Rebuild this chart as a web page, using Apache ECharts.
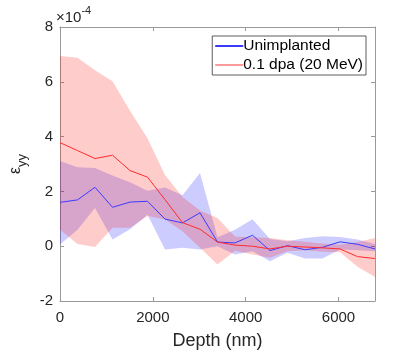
<!DOCTYPE html>
<html>
<head>
<meta charset="utf-8">
<script src="https://cdn.jsdelivr.net/npm/echarts@6/dist/echarts.min.js"></script>
<style>
  html, body { margin: 0; padding: 0; background: #fff; }
  #chart { width: 415px; height: 355px; }
</style>
</head>
<body>
<div id="chart"></div>
<script>
// depth in nm, strain in units of 1e-4
var depth = [0, 377, 754, 1131, 1508, 1885, 2262, 2639, 3016, 3393, 3770, 4147, 4524, 4901, 5278, 5655, 6032, 6409, 6786];

var blueMean  = [1.60, 1.69, 2.15, 1.42, 1.61, 1.64, 0.99, 0.85, 1.22, 0.15, 0.12, 0.40, -0.16, 0.02, -0.13, -0.04, 0.16, 0.07, -0.10];
var blueUpper = [3.11, 2.88, 2.85, 2.58, 2.33, 2.02, 2.14, 1.86, 2.67, 0.33, 0.60, 0.98, 0.26, 0.18, 0.30, 0.36, 0.34, 0.24, 0.08];
var blueLower = [0.06, 0.60, 1.39, 0.24, 0.62, 1.15, -0.12, -0.06, -0.12, 0.00, -0.30, -0.18, -0.55, -0.24, -0.45, -0.45, -0.12, -0.15, -0.18];

var redMean  = [3.78, 3.49, 3.20, 3.32, 2.76, 2.52, 1.70, 0.86, 0.62, 0.15, 0.04, 0.00, -0.10, 0.00, -0.03, -0.06, -0.10, -0.38, -0.45];
var redUpper = [6.94, 6.88, 6.42, 6.02, 4.94, 3.94, 2.60, 1.80, 1.30, 1.03, 0.35, 0.33, 0.30, 0.22, 0.16, 0.10, 0.05, 0.15, 0.30];
var redLower = [0.60, 0.08, -0.03, 0.67, 0.67, 1.10, 0.97, 0.55, -0.06, -0.67, -0.17, -0.30, -0.42, -0.18, -0.15, -0.20, -0.22, -0.75, -1.12];

var names = ['Unimplanted', '0.1 dpa (20 MeV)'];
var xTicks = [0, 2000, 4000, 6000];

var FONT = 'Liberation Sans';
var AX = '#999';
var TXT = '#262626';

function pairs(ys) {
  return depth.map(function (d, i) { return [d, ys[i]]; });
}

// shaded band between lower and upper, drawn as one polygon through the axes
function band(lower, upper, fill) {
  return {
    type: 'custom',
    silent: true,
    clip: true,
    data: depth.map(function (d, i) { return [d, lower[i], upper[i]]; }),
    encode: { x: 0, y: [1, 2] },
    renderItem: function (params, api) {
      if (params.dataIndex !== 0) return null;
      var pts = [];
      for (var i = 0; i < depth.length; i++) pts.push(api.coord([depth[i], upper[i]]));
      for (var j = depth.length - 1; j >= 0; j--) pts.push(api.coord([depth[j], lower[j]]));
      return { type: 'polygon', shape: { points: pts }, style: { fill: fill } };
    }
  };
}

function line(name, ys, color) {
  return {
    type: 'line',
    name: name,
    data: pairs(ys),
    symbol: 'none',
    lineStyle: { color: color, width: 1 },
    itemStyle: { color: color },
    animation: false
  };
}

function boxAxis(extra) {
  var a = {
    type: 'value',
    axisLine: { show: true, onZero: false, lineStyle: { color: AX } },
    axisTick: { show: true, inside: true, length: 4, lineStyle: { color: AX } },
    splitLine: { show: false },
    axisLabel: { show: false }
  };
  for (var k in extra) a[k] = extra[k];
  return a;
}

var xMax = depth[depth.length - 1];

var chart = echarts.init(document.getElementById('chart'));
chart.setOption({
  animation: false,
  textStyle: { fontFamily: FONT },
  grid: { left: 55, right: 40, top: 27, bottom: 52 },
  legend: {
    orient: 'vertical',
    right: 49,
    top: 36,
    padding: [2, 3, 2, 2],
    itemGap: 3,
    itemWidth: 28,
    itemHeight: 12,
    borderColor: '#333',
    borderWidth: 0.8,
    backgroundColor: '#fff',
    textStyle: { fontFamily: FONT, fontSize: 15.5, color: '#000', padding: [0, 0, 0, -5] },
    data: [
      { name: names[0], lineStyle: { color: '#3b3bff' }, itemStyle: { opacity: 0 } },
      { name: names[1], lineStyle: { color: '#ff9a9a' }, itemStyle: { opacity: 0 } }
    ]
  },
  graphic: [{
    type: 'text',
    left: 56,
    top: 5,
    style: {
      text: '{a|×10}{b|-4}',
      rich: {
        a: { fontFamily: FONT, fontSize: 15, fill: TXT, padding: [6, 0, 0, 0] },
        b: { fontFamily: FONT, fontSize: 11, fill: TXT, padding: [0, 0, 8, 0] }
      }
    }
  }],
  xAxis: [
    boxAxis({
      position: 'bottom', min: 0, max: xMax, interval: 2000,
      axisLabel: {
        color: TXT, fontSize: 15, margin: 9,
        formatter: function (v) { return xTicks.indexOf(v) >= 0 ? String(v) : ''; }
      },
      name: 'Depth (nm)',
      nameLocation: 'middle',
      nameGap: 31,
      nameTextStyle: { color: TXT, fontSize: 18 }
    }),
    boxAxis({ position: 'top', min: 0, max: xMax, interval: 2000 })
  ],
  yAxis: [
    boxAxis({
      position: 'left', min: -2, max: 8, interval: 2,
      axisLabel: { color: TXT, fontSize: 15, margin: 7 },
      name: '{e|ε}{s|yy}',
      nameLocation: 'middle',
      nameGap: 30,
      nameTextStyle: {
        rich: {
          e: { fontFamily: FONT, fontSize: 16, color: TXT, padding: [0, 0, 6, 0] },
          s: { fontFamily: FONT, fontSize: 13, color: TXT, padding: [6, 0, 0, 0] }
        }
      }
    }),
    boxAxis({ position: 'right', min: -2, max: 8, interval: 2 })
  ],
  series: [
    band(blueLower, blueUpper, 'rgba(0,0,255,0.2)'),
    line(names[0], blueMean, '#3b3bff'),
    band(redLower, redUpper, 'rgba(255,0,0,0.2)'),
    line(names[1], redMean, '#ff2b2b')
  ]
});
</script>
</body>
</html>
